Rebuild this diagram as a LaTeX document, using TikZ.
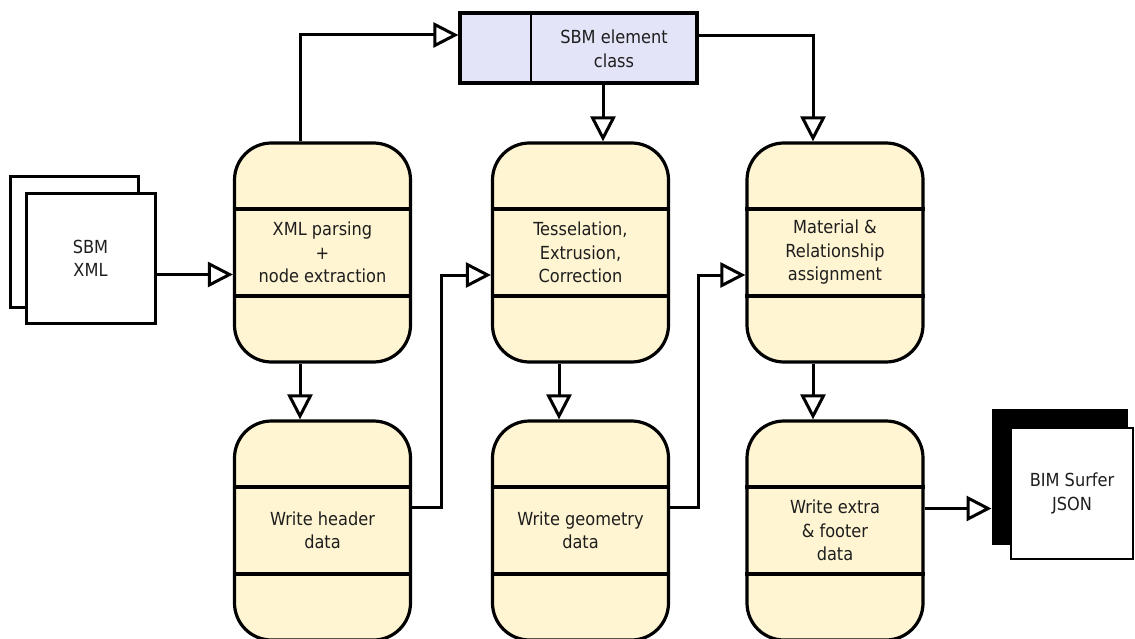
\documentclass[tikz,border=0pt]{standalone}
\usepackage{fontspec}
\setmainfont{DejaVu Sans Condensed}
\usetikzlibrary{arrows.meta,calc}
\definecolor{boxfill}{HTML}{FFF5D2}
\definecolor{clsfill}{HTML}{E3E4F8}
\definecolor{txt}{HTML}{1E1E1E}
\tikzset{
  proc/.style={draw=black, line width=3.2pt, fill=boxfill, rounded corners=37pt,
    minimum width=176pt, minimum height=219pt, inner sep=0pt, align=center,
    text=txt, font=\fontsize{18}{23.5}\selectfont},
  doc/.style={draw=black, line width=3pt, fill=white, inner sep=0pt, align=center,
    text=txt, font=\fontsize{18}{23.5}\selectfont},
  clsbox/.style={draw=black, line width=3.2pt, fill=clsfill, minimum width=237pt,
    minimum height=70pt, inner sep=0pt},
  band/.style={line width=3.2pt},
  conn/.style={line width=3pt, line join=miter,
    -{Triangle[open, length=25pt, width=25pt, line width=3pt]}},
  lbl/.style={align=center, text=txt, font=\fontsize{18}{23.5}\selectfont, inner sep=0pt}
}
\begin{document}
\begin{tikzpicture}[x=1pt,y=-1pt]
\useasboundingbox (0,0) rectangle (1135,639);
% SBM XML document stack
\node[doc, minimum width=128pt, minimum height=130pt] (xmlback) at (74,242) {};
\node[doc, minimum width=129pt, minimum height=129pt] (xml) at (90.5,258.5) {SBM\\XML};
% BIM Surfer JSON
\node[draw=black, fill=black, line width=1pt, minimum width=135pt, minimum height=135pt, inner sep=0pt] (bimback) at (1059.5,476.5) {};
\node[doc, line width=2.4pt, minimum width=122pt, minimum height=131pt] (bim) at (1072,493.5) {BIM Surfer\\JSON};
% class box
\node[clsbox] (cls) at (578.5,48) {};
\draw[line width=1.7pt] (531,13) -- (531,83);
\node[lbl] (clstxt) at (614,49) {SBM element\\class};
% process boxes
\node[proc] (b1) at (322.5,252.5) {XML parsing\\+\\node extraction};
\node[proc] (b2) at (580.5,252.5) {Tesselation,\\Extrusion,\\Correction};
\node[proc] (b3) at (835,252.5) {Material \&\\Relationship\\assignment};
\node[proc] (w1) at (322.5,530.5) {Write header\\data};
\node[proc] (w2) at (580.5,530.5) {Write geometry\\data};
\node[proc] (w3) at (835,530.5) {Write extra\\\& footer\\data};
\foreach \n in {b1,b2,b3,w1,w2,w3}{
  \draw[band] ([yshift=43.5pt]\n.west) -- ([yshift=43.5pt]\n.east);
  \draw[band] ([yshift=-43.5pt]\n.west) -- ([yshift=-43.5pt]\n.east);
}
% connectors
\draw[conn] ([yshift=-22pt]b1.west -| xml.east) -- ([yshift=-22pt]b1.west);
\draw[conn] ([xshift=-22.5pt]b1.north) |- ([yshift=13pt]cls.west);
\draw[conn] ([xshift=22.5pt]b2.north |- cls.south) -- ([xshift=22.5pt]b2.north);
\draw[conn] ([yshift=12pt]cls.east) -| ([xshift=-22pt]b3.north);
\draw[conn] ([xshift=-22.5pt]b1.south) -- ([xshift=-22.5pt]w1.north);
\draw[conn] ([xshift=-21.5pt]b2.south) -- ([xshift=-21.5pt]w2.north);
\draw[conn] ([xshift=-22pt]b3.south) -- ([xshift=-22pt]w3.north);
\draw[conn] ([yshift=23pt]w1.east) -- ++(29,0) |- ([yshift=-22.5pt]b2.west);
\draw[conn] ([yshift=23pt]w2.east) -- ++(28,0) |- ([yshift=-22.5pt]b3.west);
\draw[conn] ([yshift=22pt]w3.east) -- ([yshift=22pt]w3.east -| bimback.west);
\end{tikzpicture}
\end{document}
